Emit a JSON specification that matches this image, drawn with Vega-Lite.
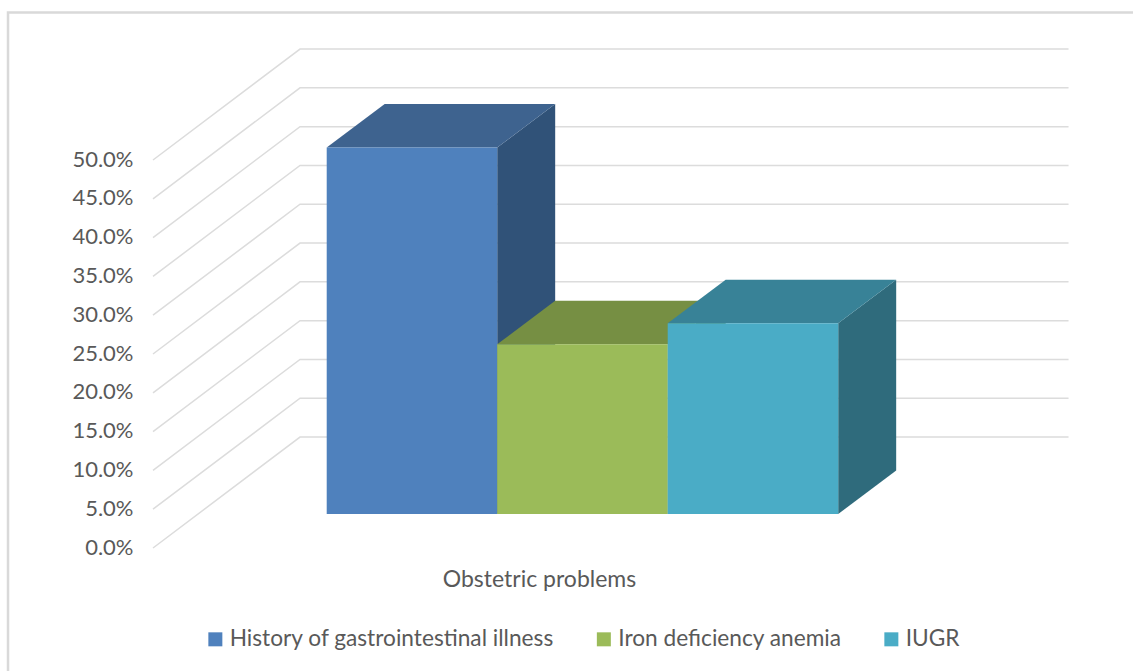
{
  "$schema": "https://vega.github.io/schema/vega-lite/v6.json",
  "width": 1133,
  "height": 671,
  "padding": 0,
  "autosize": {"type": "none"},
  "background": "#ffffff",
  "view": {"stroke": null},
  "config": {"font": "Lato"},
  "datasets": {
    "bars": [
      {"series": "History of gastrointestinal illness", "start": 1, "end": 2, "value": 0.4723},
      {"series": "Iron deficiency anemia", "start": 2, "end": 3, "value": 0.2187},
      {"series": "IUGR", "start": 3, "end": 4, "value": 0.2458}
    ],
    "faces": [
      {"series": "History of gastrointestinal illness", "face": "side", "position": 2, "low": 0.0438, "high": 0.5161},
      {"series": "History of gastrointestinal illness", "face": "side", "position": 2.34, "low": 0.0998, "high": 0.5721},
      {"series": "History of gastrointestinal illness", "face": "top", "position": 1, "low": 0.5161, "high": 0.5161},
      {"series": "History of gastrointestinal illness", "face": "top", "position": 1.34, "low": 0.5161, "high": 0.5721},
      {"series": "History of gastrointestinal illness", "face": "top", "position": 2, "low": 0.5161, "high": 0.5721},
      {"series": "History of gastrointestinal illness", "face": "top", "position": 2.34, "low": 0.5721, "high": 0.5721},
      {"series": "Iron deficiency anemia", "face": "side", "position": 3, "low": 0.0438, "high": 0.2625},
      {"series": "Iron deficiency anemia", "face": "side", "position": 3.34, "low": 0.0998, "high": 0.3185},
      {"series": "Iron deficiency anemia", "face": "top", "position": 2, "low": 0.2625, "high": 0.2625},
      {"series": "Iron deficiency anemia", "face": "top", "position": 2.34, "low": 0.2625, "high": 0.3185},
      {"series": "Iron deficiency anemia", "face": "top", "position": 3, "low": 0.2625, "high": 0.3185},
      {"series": "Iron deficiency anemia", "face": "top", "position": 3.34, "low": 0.3185, "high": 0.3185},
      {"series": "IUGR", "face": "side", "position": 4, "low": 0.0438, "high": 0.2896},
      {"series": "IUGR", "face": "side", "position": 4.34, "low": 0.0998, "high": 0.3456},
      {"series": "IUGR", "face": "top", "position": 3, "low": 0.2896, "high": 0.2896},
      {"series": "IUGR", "face": "top", "position": 3.34, "low": 0.2896, "high": 0.3456},
      {"series": "IUGR", "face": "top", "position": 4, "low": 0.2896, "high": 0.3456},
      {"series": "IUGR", "face": "top", "position": 4.34, "low": 0.3456, "high": 0.3456}
    ],
    "walls": [
      {"level": 0, "position": -0.0188, "height": 0},
      {"level": 0, "position": 0.8434, "height": 0.143},
      {"level": 0, "position": 5.351, "height": 0.143},
      {"level": 0.05, "position": -0.0188, "height": 0.05},
      {"level": 0.05, "position": 0.8434, "height": 0.193},
      {"level": 0.05, "position": 5.351, "height": 0.193},
      {"level": 0.1, "position": -0.0188, "height": 0.1},
      {"level": 0.1, "position": 0.8434, "height": 0.243},
      {"level": 0.1, "position": 5.351, "height": 0.243},
      {"level": 0.15, "position": -0.0188, "height": 0.15},
      {"level": 0.15, "position": 0.8434, "height": 0.293},
      {"level": 0.15, "position": 5.351, "height": 0.293},
      {"level": 0.2, "position": -0.0188, "height": 0.2},
      {"level": 0.2, "position": 0.8434, "height": 0.343},
      {"level": 0.2, "position": 5.351, "height": 0.343},
      {"level": 0.25, "position": -0.0188, "height": 0.25},
      {"level": 0.25, "position": 0.8434, "height": 0.393},
      {"level": 0.25, "position": 5.351, "height": 0.393},
      {"level": 0.3, "position": -0.0188, "height": 0.3},
      {"level": 0.3, "position": 0.8434, "height": 0.443},
      {"level": 0.3, "position": 5.351, "height": 0.443},
      {"level": 0.35, "position": -0.0188, "height": 0.35},
      {"level": 0.35, "position": 0.8434, "height": 0.493},
      {"level": 0.35, "position": 5.351, "height": 0.493},
      {"level": 0.4, "position": -0.0188, "height": 0.4},
      {"level": 0.4, "position": 0.8434, "height": 0.543},
      {"level": 0.4, "position": 5.351, "height": 0.543},
      {"level": 0.45, "position": -0.0188, "height": 0.45},
      {"level": 0.45, "position": 0.8434, "height": 0.593},
      {"level": 0.45, "position": 5.351, "height": 0.593},
      {"level": 0.5, "position": -0.0188, "height": 0.5},
      {"level": 0.5, "position": 0.8434, "height": 0.643},
      {"level": 0.5, "position": 5.351, "height": 0.643}
    ],
    "frame": [
      {"step": 1, "position": -0.8692, "height": -0.1585},
      {"step": 2, "position": -0.8692, "height": 0.6901},
      {"step": 3, "position": 5.729, "height": 0.6901}
    ]
  },
  "encoding": {
    "x": {
      "field": "position",
      "type": "quantitative",
      "scale": {"domain": [-0.9162, 5.729], "nice": false, "zero": false},
      "axis": {
        "title": "Obstetric problems",
        "titleFont": "Lato",
        "titleFontSize": 23,
        "titleFontWeight": "normal",
        "titleColor": "#595959",
        "titleX": 539,
        "titleY": -103,
        "labels": false,
        "ticks": false,
        "domain": false,
        "grid": false
      }
    },
    "y": {
      "field": "height",
      "type": "quantitative",
      "scale": {"domain": [-0.1585, 0.7062], "nice": false, "zero": false},
      "axis": {
        "title": null,
        "values": [0, 0.05, 0.1, 0.15, 0.2, 0.25, 0.3, 0.35, 0.4, 0.45, 0.5],
        "format": ".1%",
        "offset": -153,
        "labelPadding": 20,
        "labelOffset": -1,
        "labelFont": "Lato",
        "labelFontSize": 22,
        "labelColor": "#595959",
        "ticks": false,
        "domain": false,
        "grid": false
      }
    }
  },
  "layer": [
    {
      "description": "Back wall and left wall gridlines",
      "data": {"name": "walls"},
      "mark": {"type": "line", "color": "#dcdcdc", "strokeWidth": 1.5},
      "encoding": {"detail": {"field": "level"}, "order": {"field": "position"}}
    },
    {
      "description": "Chart area border, left and top edges",
      "data": {"name": "frame"},
      "mark": {"type": "line", "color": "#d9d9d9", "strokeWidth": 2.5},
      "encoding": {"order": {"field": "step"}}
    },
    {
      "data": {"name": "faces"},
      "transform": [{"filter": "datum.series === 'History of gastrointestinal illness' && datum.face === 'side'"}],
      "mark": {"type": "area", "orient": "vertical", "color": "#305278"},
      "encoding": {"y": {"field": "low", "type": "quantitative"}, "y2": {"field": "high"}}
    },
    {
      "data": {"name": "faces"},
      "transform": [{"filter": "datum.series === 'History of gastrointestinal illness' && datum.face === 'top'"}],
      "mark": {"type": "area", "orient": "vertical", "color": "#3e638f"},
      "encoding": {"y": {"field": "low", "type": "quantitative"}, "y2": {"field": "high"}}
    },
    {
      "data": {"name": "faces"},
      "transform": [{"filter": "datum.series === 'Iron deficiency anemia' && datum.face === 'side'"}],
      "mark": {"type": "area", "orient": "vertical", "color": "#5f7a3a"},
      "encoding": {"y": {"field": "low", "type": "quantitative"}, "y2": {"field": "high"}}
    },
    {
      "data": {"name": "faces"},
      "transform": [{"filter": "datum.series === 'Iron deficiency anemia' && datum.face === 'top'"}],
      "mark": {"type": "area", "orient": "vertical", "color": "#768f43"},
      "encoding": {"y": {"field": "low", "type": "quantitative"}, "y2": {"field": "high"}}
    },
    {
      "data": {"name": "faces"},
      "transform": [{"filter": "datum.series === 'IUGR' && datum.face === 'side'"}],
      "mark": {"type": "area", "orient": "vertical", "color": "#2f6b7c"},
      "encoding": {"y": {"field": "low", "type": "quantitative"}, "y2": {"field": "high"}}
    },
    {
      "data": {"name": "faces"},
      "transform": [{"filter": "datum.series === 'IUGR' && datum.face === 'top'"}],
      "mark": {"type": "area", "orient": "vertical", "color": "#388297"},
      "encoding": {"y": {"field": "low", "type": "quantitative"}, "y2": {"field": "high"}}
    },
    {
      "description": "Front faces: each bar rises from zero by its value, shifted along the depth of the floor",
      "data": {"name": "bars"},
      "mark": {"type": "rect", "yOffset": -34, "y2Offset": -34},
      "encoding": {
        "x": {"field": "start", "type": "quantitative"},
        "x2": {"field": "end"},
        "y": {"field": "value", "type": "quantitative"},
        "y2": {"datum": 0},
        "color": {
          "field": "series",
          "type": "nominal",
          "scale": {
            "domain": ["History of gastrointestinal illness", "Iron deficiency anemia", "IUGR"],
            "range": ["#4f81bd", "#9bbb59", "#4aacc6"]
          },
          "legend": {
            "orient": "none",
            "legendX": 204,
            "legendY": 627.5,
            "direction": "horizontal",
            "columns": 3,
            "title": null,
            "symbolType": "square",
            "symbolSize": 196,
            "symbolStrokeWidth": 0,
            "labelFont": "Lato",
            "labelFontSize": 22.7,
            "labelColor": "#595959",
            "labelOffset": 3,
            "labelLimit": 400,
            "columnPadding": 37.5
          }
        }
      }
    }
  ]
}
